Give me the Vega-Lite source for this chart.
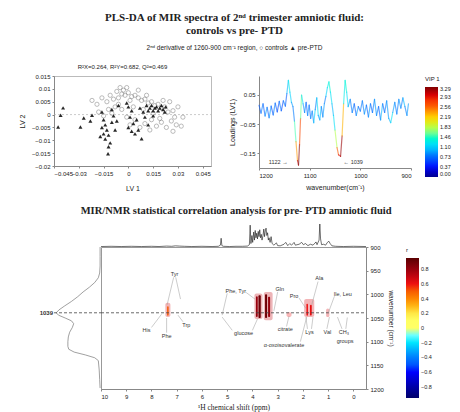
{
  "$schema": "https://vega.github.io/schema/vega-lite/v6.json",
  "background": "white",
  "padding": {"left": 17, "top": 12, "right": 2, "bottom": 2},
  "config": {
    "font": "Liberation Sans",
    "view": {"stroke": null},
    "axis": {"grid": false, "labelOverlap": false, "labelFontSize": 6, "titleFontSize": 7, "titleFontWeight": "normal", "tickSize": 2, "labelPadding": 2, "domainColor": "#888", "tickColor": "#888", "labelColor": "#222", "titleColor": "#222", "titlePadding": 4},
    "legend": {"labelOverlap": false, "titleFontSize": 6, "titleFontWeight": "normal", "labelFontSize": 5.5, "gradientThickness": 13, "labelColor": "#222", "titleColor": "#222"},
    "title": {"color": "#222"}
  },
  "title": {
    "text": ["PLS-DA of MIR spectra of 2ⁿᵈ trimester amniotic fluid:", "controls vs pre- PTD"],
    "subtitle": "2ⁿᵈ derivative of 1260-900 cm⁻¹ region,   ○ controls   ▲ pre-PTD",
    "font": "Liberation Serif", "fontSize": 11, "fontWeight": "bold", "lineHeight": 13,
    "subtitleFont": "Liberation Sans", "subtitleFontSize": 6.5, "subtitlePadding": 9, "subtitleColor": "#222",
    "anchor": "middle", "offset": 12
  },
  "spacing": 14,
  "resolve": {"scale": {"color": "independent"}, "legend": {"color": "independent"}},
  "vconcat": [
    {
      "spacing": 16,
      "resolve": {"scale": {"color": "independent"}, "legend": {"color": "independent"}},
      "hconcat": [
        {
          "width": 157, "height": 90,
          "view": {"stroke": "#bbb"},
          "title": {"text": "R²X=0.264, R²Y=0.682, Q²=0.469", "fontSize": 6, "fontWeight": "normal", "font": "Liberation Sans", "anchor": "middle", "dx": -10, "offset": 3},
          "encoding": {
            "x": {"field": "lv1", "type": "quantitative", "scale": {"domain": [-0.045, 0.05]}, "axis": {"values": [-0.045, -0.03, -0.015, 0, 0.015, 0.03, 0.045], "format": ".3~g", "title": "LV 1", "titlePadding": 8}},
            "y": {"field": "lv2", "type": "quantitative", "scale": {"domain": [-0.02, 0.015]}, "axis": {"values": [0.015, 0.01, 0.005, 0, -0.005, -0.01, -0.015, -0.02], "format": ".3~g", "title": "LV 2", "titlePadding": 6}}
          },
          "layer": [
            {
              "data": {"values": [{"lv1": -0.045, "lv1b": 0.05, "lv2": 0}]},
              "mark": {"type": "rule", "strokeDash": [2, 2], "color": "#aaa", "strokeWidth": 0.6},
              "encoding": {"x2": {"field": "lv1b"}}
            },
            {
              "data": {"values": [
                {"lv1": -0.022, "lv2": 0.0055}, {"lv1": -0.019, "lv2": 0.004}, {"lv1": -0.016, "lv2": 0.0065}, {"lv1": -0.013, "lv2": 0.005},
                {"lv1": -0.011, "lv2": 0.0075}, {"lv1": -0.009, "lv2": 0.006}, {"lv1": -0.007, "lv2": 0.009}, {"lv1": -0.005, "lv2": 0.0105},
                {"lv1": -0.003, "lv2": 0.0095}, {"lv1": -0.004, "lv2": 0.008}, {"lv1": -0.002, "lv2": 0.0075}, {"lv1": -0.006, "lv2": 0.0065},
                {"lv1": 0.0, "lv2": 0.0085}, {"lv1": 0.002, "lv2": 0.007}, {"lv1": 0.004, "lv2": 0.0075}, {"lv1": 0.001, "lv2": 0.0055},
                {"lv1": 0.006, "lv2": 0.0065}, {"lv1": 0.008, "lv2": 0.0055}, {"lv1": 0.01, "lv2": 0.006}, {"lv1": 0.012, "lv2": 0.0045},
                {"lv1": 0.014, "lv2": 0.005}, {"lv1": 0.016, "lv2": 0.0035}, {"lv1": 0.018, "lv2": 0.004}, {"lv1": 0.02, "lv2": 0.0025},
                {"lv1": 0.022, "lv2": 0.003}, {"lv1": 0.024, "lv2": 0.001}, {"lv1": 0.027, "lv2": 0.0015}, {"lv1": 0.03, "lv2": 0.003},
                {"lv1": 0.028, "lv2": -0.001}, {"lv1": 0.026, "lv2": -0.0025}, {"lv1": 0.029, "lv2": -0.004}, {"lv1": 0.027, "lv2": -0.0065},
                {"lv1": 0.032, "lv2": -0.0045}, {"lv1": 0.02, "lv2": -0.003}, {"lv1": 0.017, "lv2": -0.0045}, {"lv1": 0.013, "lv2": -0.006},
                {"lv1": 0.01, "lv2": -0.0035}, {"lv1": 0.007, "lv2": -0.005}, {"lv1": 0.004, "lv2": -0.002}, {"lv1": -0.001, "lv2": -0.001},
                {"lv1": -0.004, "lv2": 0.002}, {"lv1": -0.008, "lv2": 0.003}, {"lv1": -0.012, "lv2": 0.002}, {"lv1": -0.015, "lv2": -0.0005},
                {"lv1": -0.01, "lv2": 0.0005}, {"lv1": 0.003, "lv2": 0.003}, {"lv1": 0.009, "lv2": 0.002}, {"lv1": 0.015, "lv2": 0.0005},
                {"lv1": 0.019, "lv2": -0.0015}, {"lv1": 0.023, "lv2": -0.005}, {"lv1": -0.006, "lv2": 0.004}, {"lv1": 0.006, "lv2": 0.0095},
                {"lv1": -0.001, "lv2": 0.0105}, {"lv1": 0.011, "lv2": 0.0075}, {"lv1": 0.025, "lv2": 0.005}, {"lv1": 0.033, "lv2": -0.001},
                {"lv1": 0.014, "lv2": -0.002}, {"lv1": -0.018, "lv2": 0.001}, {"lv1": 0.001, "lv2": -0.004}, {"lv1": 0.021, "lv2": 0.0055}
              ]},
              "mark": {"type": "point", "shape": "circle", "filled": false, "stroke": "#777", "strokeWidth": 0.7, "size": 18}
            },
            {
              "data": {"values": [
                {"lv1": -0.0395, "lv2": 0.0026}, {"lv1": -0.041, "lv2": -0.0003}, {"lv1": -0.0425, "lv2": -0.0048}, {"lv1": -0.029, "lv2": -0.0048},
                {"lv1": -0.027, "lv2": -0.0013}, {"lv1": -0.022, "lv2": -0.0003}, {"lv1": -0.023, "lv2": -0.0025}, {"lv1": -0.016, "lv2": 0.001},
                {"lv1": -0.015, "lv2": -0.002}, {"lv1": -0.014, "lv2": -0.004}, {"lv1": -0.016, "lv2": -0.005}, {"lv1": -0.013, "lv2": -0.006},
                {"lv1": -0.015, "lv2": -0.0075}, {"lv1": -0.012, "lv2": -0.008}, {"lv1": -0.014, "lv2": -0.0095}, {"lv1": -0.011, "lv2": -0.011},
                {"lv1": -0.012, "lv2": -0.0125}, {"lv1": -0.0123, "lv2": -0.0152}, {"lv1": -0.01, "lv2": -0.003}, {"lv1": -0.009, "lv2": -0.0005},
                {"lv1": -0.01, "lv2": 0.002}, {"lv1": -0.008, "lv2": -0.006}, {"lv1": -0.017, "lv2": -0.0085}, {"lv1": 0.0, "lv2": 0.003},
                {"lv1": 0.002, "lv2": 0.0015}, {"lv1": 0.001, "lv2": -0.001}, {"lv1": 0.003, "lv2": -0.0035}, {"lv1": 0.0, "lv2": -0.005},
                {"lv1": 0.002, "lv2": -0.0065}, {"lv1": 0.004, "lv2": -0.0075}, {"lv1": 0.006, "lv2": -0.006}, {"lv1": 0.005, "lv2": -0.002},
                {"lv1": 0.008, "lv2": -0.0094}, {"lv1": 0.007, "lv2": 0.0025}, {"lv1": 0.009, "lv2": 0.001}, {"lv1": 0.011, "lv2": 0.0035},
                {"lv1": 0.012, "lv2": 0.0015}, {"lv1": 0.013, "lv2": 0.0025}, {"lv1": 0.014, "lv2": 0.0035}, {"lv1": 0.015, "lv2": 0.0015},
                {"lv1": 0.016, "lv2": 0.0025}, {"lv1": 0.017, "lv2": 0.003}, {"lv1": 0.018, "lv2": 0.0015}, {"lv1": 0.019, "lv2": 0.0025},
                {"lv1": 0.02, "lv2": 0.0035}, {"lv1": 0.021, "lv2": 0.002}, {"lv1": 0.022, "lv2": 0.001}, {"lv1": 0.0226, "lv2": 0.003},
                {"lv1": 0.01, "lv2": -0.001}, {"lv1": 0.015, "lv2": -0.0005}, {"lv1": -0.007, "lv2": -0.0025}, {"lv1": -0.001, "lv2": 0.0045},
                {"lv1": -0.006, "lv2": 0.0035}, {"lv1": 0.012, "lv2": -0.004}
              ]},
              "mark": {"type": "point", "shape": "triangle-up", "filled": true, "color": "#111", "size": 16, "opacity": 0.9}
            }
          ]
        },
        {
          "width": 152, "height": 92,
          "title": {"text": " ", "fontSize": 6, "offset": 3},
          "layer": [
            {
              "data": {"values": [
                {"wn": 1200, "ld": 0.015, "vip": 0.7}, {"wn": 1196, "ld": -0.012, "vip": 0.8}, {"wn": 1192, "ld": 0.02, "vip": 0.7}, {"wn": 1188, "ld": -0.022, "vip": 0.9},
                {"wn": 1184, "ld": 0.008, "vip": 0.7}, {"wn": 1180, "ld": -0.028, "vip": 0.9}, {"wn": 1176, "ld": 0.012, "vip": 0.6}, {"wn": 1172, "ld": -0.018, "vip": 0.8},
                {"wn": 1168, "ld": 0.022, "vip": 0.7}, {"wn": 1164, "ld": -0.008, "vip": 0.6}, {"wn": 1160, "ld": 0.028, "vip": 0.8}, {"wn": 1156, "ld": -0.004, "vip": 0.6},
                {"wn": 1152, "ld": 0.03, "vip": 0.8}, {"wn": 1148, "ld": 0.012, "vip": 0.7}, {"wn": 1145, "ld": 0.055, "vip": 1.0}, {"wn": 1142, "ld": 0.1, "vip": 1.3},
                {"wn": 1139, "ld": 0.06, "vip": 1.1}, {"wn": 1136, "ld": 0.025, "vip": 0.9}, {"wn": 1133, "ld": 0.01, "vip": 0.8}, {"wn": 1130, "ld": -0.04, "vip": 1.5},
                {"wn": 1127, "ld": -0.11, "vip": 2.4}, {"wn": 1124, "ld": -0.175, "vip": 3.1}, {"wn": 1122, "ld": -0.19, "vip": 3.29}, {"wn": 1120, "ld": -0.12, "vip": 2.7},
                {"wn": 1118, "ld": -0.03, "vip": 1.6}, {"wn": 1116, "ld": 0.05, "vip": 1.2}, {"wn": 1113, "ld": 0.02, "vip": 0.9}, {"wn": 1110, "ld": -0.01, "vip": 0.8},
                {"wn": 1107, "ld": 0.025, "vip": 0.7}, {"wn": 1104, "ld": -0.02, "vip": 0.9}, {"wn": 1101, "ld": 0.015, "vip": 0.7}, {"wn": 1098, "ld": -0.03, "vip": 0.9},
                {"wn": 1095, "ld": -0.005, "vip": 0.8}, {"wn": 1092, "ld": -0.045, "vip": 1.1}, {"wn": 1089, "ld": 0.0, "vip": 0.8}, {"wn": 1086, "ld": 0.04, "vip": 1.2},
                {"wn": 1083, "ld": -0.02, "vip": 0.9}, {"wn": 1080, "ld": -0.035, "vip": 1.0}, {"wn": 1077, "ld": 0.01, "vip": 0.8}, {"wn": 1074, "ld": -0.025, "vip": 0.9},
                {"wn": 1071, "ld": 0.02, "vip": 0.8}, {"wn": 1068, "ld": 0.045, "vip": 1.1}, {"wn": 1065, "ld": 0.075, "vip": 1.3}, {"wn": 1062, "ld": 0.095, "vip": 1.4},
                {"wn": 1059, "ld": 0.06, "vip": 1.2}, {"wn": 1056, "ld": 0.02, "vip": 1.0}, {"wn": 1053, "ld": -0.02, "vip": 1.2}, {"wn": 1050, "ld": -0.07, "vip": 1.8},
                {"wn": 1046, "ld": -0.13, "vip": 2.6}, {"wn": 1043, "ld": -0.155, "vip": 3.0}, {"wn": 1039, "ld": -0.16, "vip": 3.2}, {"wn": 1036, "ld": -0.09, "vip": 2.3},
                {"wn": 1033, "ld": 0.02, "vip": 1.3}, {"wn": 1030, "ld": 0.1, "vip": 1.4}, {"wn": 1027, "ld": 0.06, "vip": 1.2}, {"wn": 1024, "ld": 0.01, "vip": 0.9},
                {"wn": 1020, "ld": 0.035, "vip": 0.8}, {"wn": 1016, "ld": -0.01, "vip": 0.8}, {"wn": 1012, "ld": 0.02, "vip": 0.7}, {"wn": 1008, "ld": -0.02, "vip": 0.9},
                {"wn": 1004, "ld": 0.01, "vip": 0.7}, {"wn": 1000, "ld": -0.005, "vip": 0.8}, {"wn": 996, "ld": 0.03, "vip": 0.8}, {"wn": 992, "ld": -0.015, "vip": 0.9},
                {"wn": 988, "ld": 0.015, "vip": 0.7}, {"wn": 984, "ld": -0.025, "vip": 0.9}, {"wn": 980, "ld": 0.02, "vip": 0.7}, {"wn": 976, "ld": -0.01, "vip": 0.8},
                {"wn": 972, "ld": 0.035, "vip": 0.9}, {"wn": 968, "ld": -0.02, "vip": 0.8}, {"wn": 964, "ld": 0.01, "vip": 0.7}, {"wn": 960, "ld": -0.035, "vip": 1.0},
                {"wn": 956, "ld": 0.02, "vip": 0.7}, {"wn": 952, "ld": -0.01, "vip": 0.8}, {"wn": 948, "ld": 0.03, "vip": 0.9}, {"wn": 944, "ld": -0.03, "vip": 1.0},
                {"wn": 940, "ld": -0.045, "vip": 1.2}, {"wn": 936, "ld": -0.01, "vip": 0.9}, {"wn": 932, "ld": 0.025, "vip": 0.8}, {"wn": 928, "ld": -0.015, "vip": 0.8},
                {"wn": 924, "ld": 0.035, "vip": 0.9}, {"wn": 920, "ld": 0.005, "vip": 0.8}, {"wn": 916, "ld": 0.04, "vip": 1.0}, {"wn": 912, "ld": 0.01, "vip": 0.8},
                {"wn": 908, "ld": -0.02, "vip": 0.9}, {"wn": 905, "ld": 0.02, "vip": 0.8}
              ]},
              "transform": [
                {"window": [{"op": "lead", "field": "wn", "as": "wn2"}, {"op": "lead", "field": "ld", "as": "ld2"}], "sort": [{"field": "wn", "order": "descending"}]},
                {"filter": "datum.wn2 != null"}
              ],
              "mark": {"type": "rule", "strokeWidth": 1.2, "strokeOpacity": 0.6, "strokeCap": "round"},
              "encoding": {
                "x": {"field": "wn", "type": "quantitative", "scale": {"domain": [900, 1200], "reverse": true}, "axis": {"values": [1200, 1100, 1000, 900], "format": "d", "title": "wavenumber(cm⁻¹)", "titlePadding": 5}},
                "x2": {"field": "wn2"},
                "y": {"field": "ld", "type": "quantitative", "scale": {"domain": [-0.2, 0.115]}, "axis": {"values": [0.1, 0.05, 0, -0.05, -0.1, -0.15], "format": ".3~g", "title": "Loadings (LV1)"}},
                "y2": {"field": "ld2"},
                "color": {"field": "vip", "type": "quantitative",
                  "scale": {"domain": [0, 3.29], "range": ["#00008f", "#0000ff", "#0060ff", "#00d0ff", "#40ffbf", "#bfff40", "#ffd000", "#ff6000", "#ef0000", "#800000"]},
                  "legend": {"title": "VIP 1", "values": [0, 0.37, 0.73, 1.1, 1.46, 1.83, 2.19, 2.56, 2.93, 3.29], "format": ".2f", "gradientLength": 90, "offset": 14}}
              }
            },
            {
              "data": {"values": [{"wn": 1162, "ld": -0.178, "t": "1122 →"}, {"wn": 1014, "ld": -0.178, "t": "← 1039"}]},
              "mark": {"type": "text", "fontSize": 5.5, "color": "#333"},
              "encoding": {
                "x": {"field": "wn", "type": "quantitative", "scale": {"domain": [900, 1200], "reverse": true}},
                "y": {"field": "ld", "type": "quantitative", "scale": {"domain": [-0.2, 0.115]}},
                "text": {"field": "t"}
              }
            }
          ]
        }
      ]
    },
    {
      "title": {"text": "MIR/NMR statistical correlation analysis for pre- PTD amniotic fluid", "font": "Liberation Serif", "fontSize": 10.5, "fontWeight": "bold", "anchor": "middle", "offset": 6},
      "columns": 2,
      "spacing": 0,
      "bounds": "flush",
      "resolve": {"scale": {"color": "independent"}, "legend": {"color": "independent"}},
      "concat": [
        {
          "width": 47, "height": 23,
          "data": {"values": []},
          "mark": "point",
          "encoding": {}
        },
        {
          "width": 265, "height": 23,
          "data": {"values": [
            {"p": 10, "i": 0.02}, {"p": 9.6, "i": 0.03}, {"p": 9.2, "i": 0.02}, {"p": 8.8, "i": 0.03}, {"p": 8.4, "i": 0.02}, {"p": 8.0, "i": 0.03},
            {"p": 7.7, "i": 0.02}, {"p": 7.4, "i": 0.04}, {"p": 7.2, "i": 0.03}, {"p": 7.05, "i": 0.05}, {"p": 6.9, "i": 0.04}, {"p": 6.7, "i": 0.03},
            {"p": 6.4, "i": 0.02}, {"p": 6.0, "i": 0.03}, {"p": 5.6, "i": 0.02}, {"p": 5.35, "i": 0.03}, {"p": 5.27, "i": 0.08}, {"p": 5.24, "i": 0.38},
            {"p": 5.21, "i": 0.06}, {"p": 5.15, "i": 0.03}, {"p": 4.9, "i": 0.02}, {"p": 4.65, "i": 0.03}, {"p": 4.4, "i": 0.03}, {"p": 4.2, "i": 0.04},
            {"p": 4.12, "i": 0.1}, {"p": 4.09, "i": 0.95}, {"p": 4.06, "i": 0.15}, {"p": 4.02, "i": 0.5}, {"p": 3.99, "i": 0.2}, {"p": 3.95, "i": 0.65},
            {"p": 3.92, "i": 0.3}, {"p": 3.89, "i": 0.72}, {"p": 3.86, "i": 0.4}, {"p": 3.83, "i": 0.6}, {"p": 3.8, "i": 0.35}, {"p": 3.77, "i": 0.68},
            {"p": 3.74, "i": 0.45}, {"p": 3.71, "i": 0.75}, {"p": 3.68, "i": 0.4}, {"p": 3.65, "i": 0.55}, {"p": 3.62, "i": 0.3}, {"p": 3.58, "i": 0.5},
            {"p": 3.55, "i": 0.78}, {"p": 3.52, "i": 0.45}, {"p": 3.49, "i": 0.7}, {"p": 3.46, "i": 0.82}, {"p": 3.43, "i": 0.5}, {"p": 3.4, "i": 0.62},
            {"p": 3.37, "i": 0.3}, {"p": 3.34, "i": 0.4}, {"p": 3.3, "i": 0.2}, {"p": 3.26, "i": 0.45}, {"p": 3.22, "i": 0.15}, {"p": 3.15, "i": 0.08},
            {"p": 3.05, "i": 0.18}, {"p": 3.0, "i": 0.06}, {"p": 2.9, "i": 0.05}, {"p": 2.75, "i": 0.12}, {"p": 2.68, "i": 0.2}, {"p": 2.6, "i": 0.06},
            {"p": 2.52, "i": 0.15}, {"p": 2.45, "i": 0.08}, {"p": 2.35, "i": 0.2}, {"p": 2.3, "i": 0.08}, {"p": 2.15, "i": 0.12}, {"p": 2.05, "i": 0.2},
            {"p": 1.98, "i": 0.1}, {"p": 1.9, "i": 0.15}, {"p": 1.8, "i": 0.06}, {"p": 1.7, "i": 0.12}, {"p": 1.6, "i": 0.08}, {"p": 1.48, "i": 0.22},
            {"p": 1.44, "i": 0.1}, {"p": 1.36, "i": 0.3}, {"p": 1.33, "i": 1.0}, {"p": 1.3, "i": 0.35}, {"p": 1.26, "i": 0.1}, {"p": 1.18, "i": 0.12},
            {"p": 1.1, "i": 0.08}, {"p": 1.03, "i": 0.2}, {"p": 0.97, "i": 0.25}, {"p": 0.92, "i": 0.15}, {"p": 0.85, "i": 0.05}, {"p": 0.7, "i": 0.03},
            {"p": 0.4, "i": 0.02}, {"p": 0.0, "i": 0.03}, {"p": -0.5, "i": 0.02}
          ]},
          "mark": {"type": "line", "color": "#111", "strokeWidth": 0.6},
          "encoding": {
            "x": {"field": "p", "type": "quantitative", "scale": {"domain": [-0.5, 10], "reverse": true}, "axis": null},
            "y": {"field": "i", "type": "quantitative", "scale": {"domain": [0, 1]}, "axis": null}
          }
        },
        {
          "width": 47, "height": 142,
          "layer": [
            {
              "data": {"values": [
                {"w": 900, "a": 0.02}, {"w": 920, "a": 0.02}, {"w": 940, "a": 0.02}, {"w": 955, "a": 0.03}, {"w": 965, "a": 0.06},
                {"w": 975, "a": 0.14}, {"w": 985, "a": 0.26}, {"w": 995, "a": 0.4}, {"w": 1005, "a": 0.52}, {"w": 1015, "a": 0.66},
                {"w": 1025, "a": 0.82}, {"w": 1033, "a": 0.94}, {"w": 1039, "a": 1.0}, {"w": 1044, "a": 0.95}, {"w": 1050, "a": 0.8},
                {"w": 1056, "a": 0.66}, {"w": 1062, "a": 0.61}, {"w": 1070, "a": 0.64}, {"w": 1080, "a": 0.7}, {"w": 1090, "a": 0.73},
                {"w": 1100, "a": 0.74}, {"w": 1110, "a": 0.74}, {"w": 1116, "a": 0.72}, {"w": 1122, "a": 0.6}, {"w": 1128, "a": 0.35},
                {"w": 1134, "a": 0.14}, {"w": 1140, "a": 0.06}, {"w": 1160, "a": 0.04}, {"w": 1180, "a": 0.03}, {"w": 1198, "a": 0.02}
              ]},
              "mark": {"type": "line", "color": "#777", "strokeWidth": 0.7},
              "encoding": {
                "x": {"field": "a", "type": "quantitative", "scale": {"domain": [0, 1.05], "reverse": true}, "axis": null},
                "y": {"field": "w", "type": "quantitative", "scale": {"domain": [900, 1200], "reverse": true}, "axis": null},
                "order": {"field": "w", "type": "quantitative"}
              }
            },
            {
              "data": {"values": [{"a": 1.05, "a2": 0, "w": 1039}]},
              "mark": {"type": "rule", "strokeDash": [3, 2], "color": "#444", "strokeWidth": 0.8},
              "encoding": {
                "x": {"field": "a", "type": "quantitative", "scale": {"domain": [0, 1.05], "reverse": true}, "axis": null},
                "x2": {"field": "a2"},
                "y": {"field": "w", "type": "quantitative", "scale": {"domain": [900, 1200], "reverse": true}, "axis": null}
              }
            },
            {
              "data": {"values": [{"a": 1.05, "w": 1039, "t": "1039"}]},
              "mark": {"type": "text", "align": "right", "dx": -1, "fontSize": 6, "fontWeight": "bold", "color": "#333"},
              "encoding": {
                "x": {"field": "a", "type": "quantitative", "scale": {"domain": [0, 1.05], "reverse": true}, "axis": null},
                "y": {"field": "w", "type": "quantitative", "scale": {"domain": [900, 1200], "reverse": true}, "axis": null},
                "text": {"field": "t"}
              }
            }
          ]
        },
        {
          "width": 265, "height": 142,
          "view": {"stroke": "#999"},
          "encoding": {
            "x": {"field": "p", "type": "quantitative", "scale": {"domain": [-0.5, 10], "reverse": true},
              "axis": {"values": [10, 9, 8, 7, 6, 5, 4, 3, 2, 1, 0], "format": "d", "title": "¹H chemical shift (ppm)", "titleFont": "Liberation Serif", "titleFontSize": 7.5}},
            "y": {"field": "w", "type": "quantitative", "scale": {"domain": [900, 1200], "reverse": true},
              "axis": {"orient": "right", "values": [900, 950, 1000, 1050, 1100, 1150, 1200], "format": "d", "title": "wavenumber (cm⁻¹)", "titleFontSize": 6.5}}
          },
          "layer": [
            {
              "data": {"values": [
                {"p": 3.92, "p2": 3.6, "w": 998, "w2": 1052, "r": 0.7},
                {"p": 3.55, "p2": 3.2, "w": 995, "w2": 1055, "r": 0.7},
                {"p": 1.95, "p2": 1.55, "w": 1010, "w2": 1048, "r": 0.65},
                {"p": 7.45, "p2": 7.25, "w": 1018, "w2": 1048, "r": 0.65},
                {"p": 1.08, "p2": 0.95, "w": 1030, "w2": 1048, "r": 0.65},
                {"p": 2.65, "p2": 2.45, "w": 1038, "w2": 1048, "r": 0.6}
              ]},
              "mark": {"type": "rect", "fillOpacity": 0.3, "cornerRadius": 2},
              "encoding": {
                "x2": {"field": "p2"}, "y2": {"field": "w2"},
                "color": {"field": "r", "type": "quantitative",
                  "scale": {"domain": [-0.95, -0.6, -0.35, -0.15, 0, 0.15, 0.35, 0.6, 0.95], "range": ["#00006a", "#0000ff", "#2090ff", "#60ffff", "#ffffff", "#ffff60", "#ff9a00", "#ee1010", "#5a0000"]},
                  "legend": {"title": "r", "values": [0.8, 0.6, 0.4, 0.2, 0, -0.2, -0.4, -0.6, -0.8], "format": "~g", "gradientLength": 140, "offset": 12}}
              }
            },
            {
              "data": {"values": [
                {"p": 3.86, "p2": 3.79, "w": 1004, "w2": 1048, "r": 0.8},
                {"p": 3.76, "p2": 3.67, "w": 1002, "w2": 1050, "r": 0.9},
                {"p": 3.5, "p2": 3.42, "w": 1000, "w2": 1050, "r": 0.9},
                {"p": 3.38, "p2": 3.3, "w": 1005, "w2": 1048, "r": 0.8},
                {"p": 1.86, "p2": 1.8, "w": 1020, "w2": 1045, "r": 0.6},
                {"p": 1.72, "p2": 1.65, "w": 1022, "w2": 1045, "r": 0.62},
                {"p": 7.38, "p2": 7.32, "w": 1025, "w2": 1045, "r": 0.5}
              ]},
              "mark": {"type": "rect", "cornerRadius": 1},
              "encoding": {
                "x2": {"field": "p2"}, "y2": {"field": "w2"},
                "color": {"field": "r", "type": "quantitative"}
              }
            },
            {
              "data": {"values": [{"p": 10, "p2": -0.5, "w": 1039}]},
              "mark": {"type": "rule", "strokeDash": [3, 2], "color": "#444", "strokeWidth": 0.8},
              "encoding": {"x2": {"field": "p2"}}
            },
            {
              "data": {"values": [
                {"p": 7.12, "w": 964, "p2": 7.38, "w2": 1022}, {"p": 7.04, "w": 964, "p2": 6.85, "w2": 1010},
                {"p": 6.75, "w": 1058, "p2": 6.95, "w2": 1044}, {"p": 8.0, "w": 1070, "p2": 7.6, "w2": 1042},
                {"p": 7.4, "w": 1081, "p2": 7.4, "w2": 1050}, {"p": 5.0, "w": 998, "p2": 5.2, "w2": 1044},
                {"p": 4.25, "w": 996, "p2": 3.9, "w2": 1010}, {"p": 4.8, "w": 1076, "p2": 5.2, "w2": 1048},
                {"p": 4.0, "w": 1076, "p2": 3.8, "w2": 1052}, {"p": 3.0, "w": 995, "p2": 3.15, "w2": 1035},
                {"p": 2.65, "w": 1068, "p2": 2.55, "w2": 1046}, {"p": 2.1, "w": 1100, "p2": 1.85, "w2": 1048},
                {"p": 2.15, "w": 1008, "p2": 1.88, "w2": 1030}, {"p": 1.4, "w": 973, "p2": 1.65, "w2": 1022},
                {"p": 0.75, "w": 1004, "p2": 1.0, "w2": 1040}, {"p": 1.82, "w": 1073, "p2": 1.88, "w2": 1048},
                {"p": 1.66, "w": 1073, "p2": 1.6, "w2": 1048}, {"p": 1.05, "w": 1073, "p2": 0.95, "w2": 1048},
                {"p": 0.45, "w": 1073, "p2": 0.63, "w2": 1048}, {"p": 0.3, "w": 1073, "p2": 0.24, "w2": 1049}
              ]},
              "mark": {"type": "rule", "color": "#999", "strokeWidth": 0.5},
              "encoding": {"x2": {"field": "p2"}, "y2": {"field": "w2"}}
            },
            {
              "data": {"values": [
                {"t": "Tyr", "p": 7.09, "w": 956}, {"t": "His", "p": 8.2, "w": 1076}, {"t": "Phe", "p": 7.4, "w": 1088},
                {"t": "Trp", "p": 6.62, "w": 1064}, {"t": "Phe, Tyr", "p": 4.66, "w": 992}, {"t": "glucose", "p": 4.35, "w": 1082},
                {"t": "Gln", "p": 2.92, "w": 988}, {"t": "citrate", "p": 2.7, "w": 1074}, {"t": "α-oxoisovalerate", "p": 2.75, "w": 1106},
                {"t": "Pro", "p": 2.35, "w": 1004}, {"t": "Ala", "p": 1.35, "w": 966}, {"t": "Ile, Leu", "p": 0.42, "w": 1000},
                {"t": "Lys", "p": 1.74, "w": 1080}, {"t": "Val", "p": 1.03, "w": 1080}, {"t": "CH₃", "p": 0.38, "w": 1080},
                {"t": "groups", "p": 0.33, "w": 1099}
              ]},
              "mark": {"type": "text", "fontSize": 5.5, "color": "#333"},
              "encoding": {"text": {"field": "t"}}
            }
          ]
        }
      ]
    }
  ]
}
